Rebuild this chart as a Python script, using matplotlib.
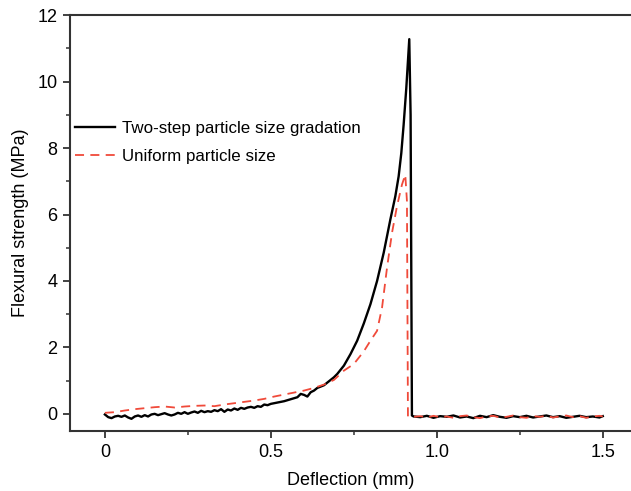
import matplotlib.pyplot as plt
from matplotlib.ticker import MultipleLocator

plt.rcParams['font.family'] = ['Liberation Sans', 'DejaVu Sans']

# two-step particle size gradation (solid black)
two_step_x = [0.00, 0.01, 0.02, 0.03, 0.04, 0.05, 0.06, 0.07, 0.08, 0.09,
              0.10, 0.11, 0.12, 0.13, 0.14, 0.15, 0.16, 0.17, 0.18, 0.19,
              0.20, 0.21, 0.22, 0.23, 0.24, 0.25, 0.26, 0.27, 0.28, 0.29,
              0.30, 0.31, 0.32, 0.33, 0.34, 0.35, 0.36, 0.37, 0.38, 0.39,
              0.40, 0.41, 0.42, 0.43, 0.44, 0.45, 0.46, 0.47, 0.48, 0.49,
              0.50, 0.52, 0.54, 0.56, 0.58, 0.59, 0.60, 0.61, 0.62, 0.63,
              0.64, 0.65, 0.66, 0.67, 0.68, 0.69, 0.70, 0.72, 0.74, 0.76,
              0.78, 0.80, 0.82, 0.84, 0.86, 0.875, 0.885, 0.893, 0.900, 0.908,
              0.917, 0.921, 0.925,
              0.93, 0.95, 0.97, 0.99, 1.01, 1.03, 1.05, 1.07, 1.09, 1.11,
              1.13, 1.15, 1.17, 1.19, 1.21, 1.23, 1.25, 1.27, 1.29, 1.31,
              1.33, 1.35, 1.37, 1.39, 1.41, 1.43, 1.45, 1.47, 1.49, 1.50]
two_step_y = [-0.02, -0.10, -0.13, -0.08, -0.06, -0.09, -0.05, -0.11, -0.15, -0.08,
              -0.05, -0.09, -0.04, -0.08, -0.02, 0.00, -0.04, -0.01, 0.02, -0.02,
              -0.05, -0.02, 0.03, 0.00, 0.05, 0.00, 0.04, 0.07, 0.03, 0.09,
              0.05, 0.08, 0.06, 0.11, 0.08, 0.14, 0.06, 0.13, 0.10, 0.16,
              0.12, 0.18, 0.15, 0.19, 0.21, 0.18, 0.23, 0.21, 0.28, 0.26,
              0.30, 0.34, 0.38, 0.44, 0.50, 0.60, 0.57, 0.52, 0.65, 0.70,
              0.78, 0.82, 0.86, 0.94, 1.02, 1.10, 1.20, 1.45, 1.80, 2.20,
              2.72, 3.30, 4.00, 4.85, 5.85, 6.55, 7.15, 7.85, 8.70, 9.80,
              11.28, 9.00, -0.05,
              -0.08, -0.10, -0.06, -0.12, -0.07, -0.09, -0.05, -0.11, -0.08, -0.13,
              -0.06, -0.10, -0.04, -0.09, -0.12, -0.07, -0.10, -0.06, -0.11, -0.08,
              -0.05, -0.10, -0.07, -0.12, -0.09, -0.06, -0.10, -0.08, -0.11, -0.07]

# uniform particle size (dashed red)
uniform_x = [0.00, 0.03, 0.06, 0.09, 0.12, 0.15, 0.18, 0.21, 0.24, 0.27,
             0.30, 0.33, 0.36, 0.39, 0.42, 0.45, 0.48, 0.51, 0.54, 0.57,
             0.60, 0.63, 0.66, 0.69, 0.72, 0.75, 0.78, 0.80, 0.82, 0.835,
             0.85, 0.865, 0.88, 0.895, 0.905, 0.91, 0.913,
             0.93, 0.95, 0.97, 0.99, 1.01, 1.03, 1.05, 1.07, 1.09, 1.11,
             1.13, 1.15, 1.17, 1.19, 1.21, 1.23, 1.25, 1.27, 1.29, 1.31,
             1.33, 1.35, 1.37, 1.39, 1.41, 1.43, 1.45, 1.47, 1.49, 1.50]
uniform_y = [0.03, 0.05, 0.10, 0.14, 0.17, 0.20, 0.22, 0.19, 0.22, 0.24,
             0.25, 0.23, 0.28, 0.32, 0.36, 0.40, 0.45, 0.52, 0.58, 0.64,
             0.70, 0.78, 0.88, 1.02, 1.30, 1.50, 1.88, 2.20, 2.50, 3.20,
             4.40, 5.45, 6.25, 6.90, 7.20, 6.40, -0.08,
             -0.09, -0.07, -0.11, -0.06, -0.10, -0.08, -0.12, -0.07, -0.05, -0.10,
             -0.13, -0.08, -0.06, -0.11, -0.09, -0.05, -0.10, -0.12, -0.07, -0.09,
             -0.06, -0.11, -0.08, -0.05, -0.10, -0.07, -0.12, -0.08, -0.06, -0.08]

fig = plt.figure(figsize=(6.31, 4.91), dpi=100)
ax = fig.add_axes([0.111, 0.122, 0.889, 0.847])

ax.plot(two_step_x, two_step_y, color='black', lw=1.7,
        label='Two-step particle size gradation')
ax.plot(uniform_x, uniform_y, color='#f04a3a', lw=1.3, linestyle=(0, (5, 3.5)),
        label='Uniform particle size')

ax.set_xlim(-0.105, 1.585)
ax.set_ylim(-0.52, 12)
ax.xaxis.set_major_locator(MultipleLocator(0.5))
ax.xaxis.set_minor_locator(MultipleLocator(0.25))
ax.yaxis.set_major_locator(MultipleLocator(2))
ax.yaxis.set_minor_locator(MultipleLocator(1))
ax.set_xticks([0, 0.5, 1.0, 1.5])
ax.set_xticklabels(['0', '0.5', '1.0', '1.5'])

ax.spines['right'].set_visible(False)
for s in ['left', 'bottom', 'top']:
    ax.spines[s].set_linewidth(1.5)
    ax.spines[s].set_color('#333333')
ax.tick_params(which='major', direction='out', length=5, width=1.3,
               color='#333333', labelsize=13, pad=4)
ax.tick_params(which='minor', direction='out', length=3, width=1.1, color='#333333')
ax.tick_params(top=False, right=False, which='both')

ax.set_xlabel('Deflection (mm)', fontsize=13, labelpad=8)
ax.set_ylabel('Flexural strength (MPa)', fontsize=13, labelpad=6)

ax.legend(loc='upper left', bbox_to_anchor=(0.008, 0.746), frameon=False,
          fontsize=12.2, handlelength=2.4, handletextpad=0.4, labelspacing=0.78,
          borderpad=0, borderaxespad=0)

fig.savefig('out.png', dpi=100)
